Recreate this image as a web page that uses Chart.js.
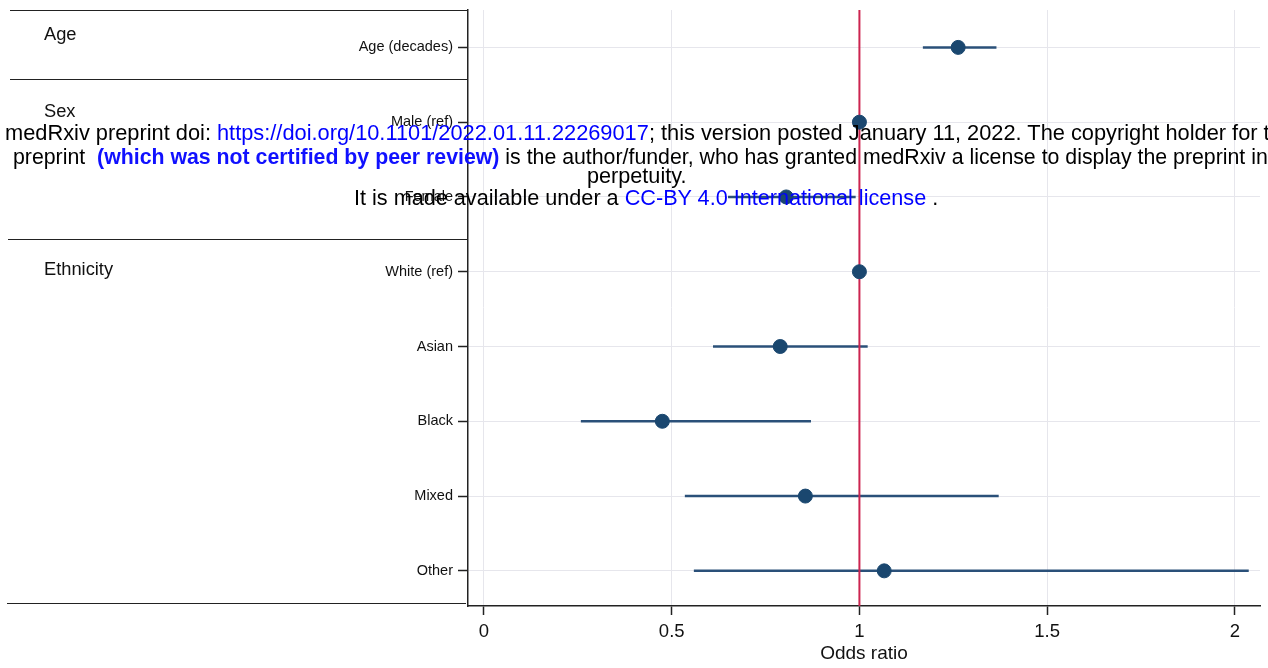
<!DOCTYPE html>
<html>
<head>
<meta charset="utf-8">
<script src="https://cdn.jsdelivr.net/npm/chart.js@4.4.1/dist/chart.umd.min.js"></script>
<style>
  body { margin: 0; background: #fff; overflow: hidden; }
  #wrap { position: relative; width: 1268px; height: 668px; overflow: hidden; font-family: "Liberation Sans", Arial, sans-serif; }
  #chartBox { position: absolute; left: 0; top: 0; width: 1268px; height: 668px; }
  .rule { position: absolute; height: 0; border-top: 1.5px solid #222; }
  .group { position: absolute; left: 44px; font-size: 18.3px; color: #111; line-height: 20px; }
  .wm { position: absolute; white-space: nowrap; font-size: 21.65px; line-height: 24px; color: #000; }
  .wm a { color: #0000ff; text-decoration: none; }
  .wm b { color: #1010ff; }
</style>
</head>
<body>
<div id="wrap">
  <div id="chartBox"><canvas id="forest"></canvas></div>

  <div class="rule" style="left:10px; width:458px; top:10px;"></div>
  <div class="rule" style="left:10px; width:458px; top:79px;"></div>
  <div class="rule" style="left:8px; width:459px; top:239px;"></div>
  <div class="rule" style="left:7px; width:459px; top:603px;"></div>

  <div class="group" style="top:24px;">Age</div>
  <div class="group" style="top:101px;">Sex</div>
  <div class="group" style="top:259px;">Ethnicity</div>

  <div class="wm" style="left:5px; top:121px; font-size:21.8px;">medRxiv preprint doi: <a>https://doi.org/10.1101/2022.01.11.22269017</a>; this version posted January 11, 2022. The copyright holder for this</div>
  <div class="wm" style="left:13px; top:145px; font-size:21.3px;">preprint &nbsp;<b>(which was not certified by peer review)</b> is the author/funder, who has granted medRxiv a license to display the preprint in</div>
  <div class="wm" style="left:587px; top:164px;">perpetuity.</div>
  <div class="wm" style="left:354px; top:186px;">It is made available under a <a>CC-BY 4.0 International license</a> .</div>
</div>

<script>
const rowLabels = ['Age (decades)', 'Male (ref)', 'Female', 'White (ref)', 'Asian', 'Black', 'Mixed', 'Other'];
const oddsRatio = [1.263, 1, 0.805, 1, 0.789, 0.475, 0.856, 1.066];
const ciLow = [1.169, null, 0.65, null, 0.61, 0.258, 0.535, 0.559];
const ciHigh = [1.365, null, 0.99, null, 1.022, 0.871, 1.371, 2.037];
const xTicks = [0, 0.5, 1, 1.5, 2];
const refValue = 1;

const dotColor = '#1a476f';
const ciColor = '#2a5079';
const refColor = '#cc2450';
const fontFamily = '"Liberation Sans", Arial, sans-serif';

let datasets = [];

// confidence interval lines
rowLabels.forEach((label, i) => {
    if (ciLow[i] === null) return;
    datasets.push({
        label: label + ' CI',
        data: [{x: ciLow[i], y: i}, {x: ciHigh[i], y: i}],
        showLine: true,
        borderColor: ciColor,
        borderWidth: 2.5,
        pointRadius: 0,
        order: 3
    });
});

// reference line at OR = 1
datasets.push({
    label: 'ref',
    data: [{x: refValue, y: -0.5}, {x: refValue, y: rowLabels.length}],
    showLine: true,
    borderColor: refColor,
    borderWidth: 2,
    pointRadius: 0,
    order: 2
});

// point estimates
datasets.push({
    label: 'Odds ratio',
    data: oddsRatio.map((v, i) => ({x: v, y: i})),
    backgroundColor: dotColor,
    borderColor: dotColor,
    pointRadius: 7,
    pointHoverRadius: 7,
    order: 1
});

// no extra padding from the tick labels, the layout padding decides the plot box
function noPad(s) {
    s.paddingTop = 0;
    s.paddingBottom = 0;
    s.paddingLeft = 0;
    s.paddingRight = 0;
}

new Chart('forest', {
    type: 'scatter',
    data: { datasets: datasets },
    options: {
        responsive: true,
        maintainAspectRatio: false,
        animation: false,
        layout: { padding: { top: 10, right: 0, left: 0, bottom: 0 } },
        plugins: { legend: { display: false }, tooltip: { enabled: false } },
        scales: {
            x: {
                type: 'linear',
                min: -0.0426,
                max: 2.067,
                afterBuildTicks: s => { s.ticks = xTicks.map(v => ({value: v})); },
                afterFit: s => { s.height = 62; noPad(s); },
                grid: { color: '#e6e6ec', lineWidth: 1, tickColor: '#222', tickLength: 9, tickWidth: 1.5 },
                border: { display: true, color: '#222', width: 1.5 },
                ticks: {
                    padding: 6,
                    color: '#111',
                    font: { family: fontFamily, size: 18.5 },
                    callback: v => String(v)
                },
                title: {
                    display: true,
                    text: 'Odds ratio',
                    color: '#111',
                    padding: { top: 0, bottom: 3 },
                    font: { family: fontFamily, size: 19 }
                }
            },
            y: {
                type: 'linear',
                reverse: true,
                min: -0.5,
                max: rowLabels.length - 0.53,
                afterBuildTicks: s => { s.ticks = rowLabels.map((_, i) => ({value: i})); },
                afterFit: s => { s.width = 468; noPad(s); },
                grid: { color: '#e6e6ec', lineWidth: 1, tickColor: '#222', tickLength: 10, tickWidth: 1.5 },
                border: { display: true, color: '#222', width: 1.5 },
                ticks: {
                    padding: 5,
                    color: '#111',
                    font: { family: fontFamily, size: 14.5 },
                    callback: v => rowLabels[v]
                }
            }
        }
    }
});
</script>
</body>
</html>
